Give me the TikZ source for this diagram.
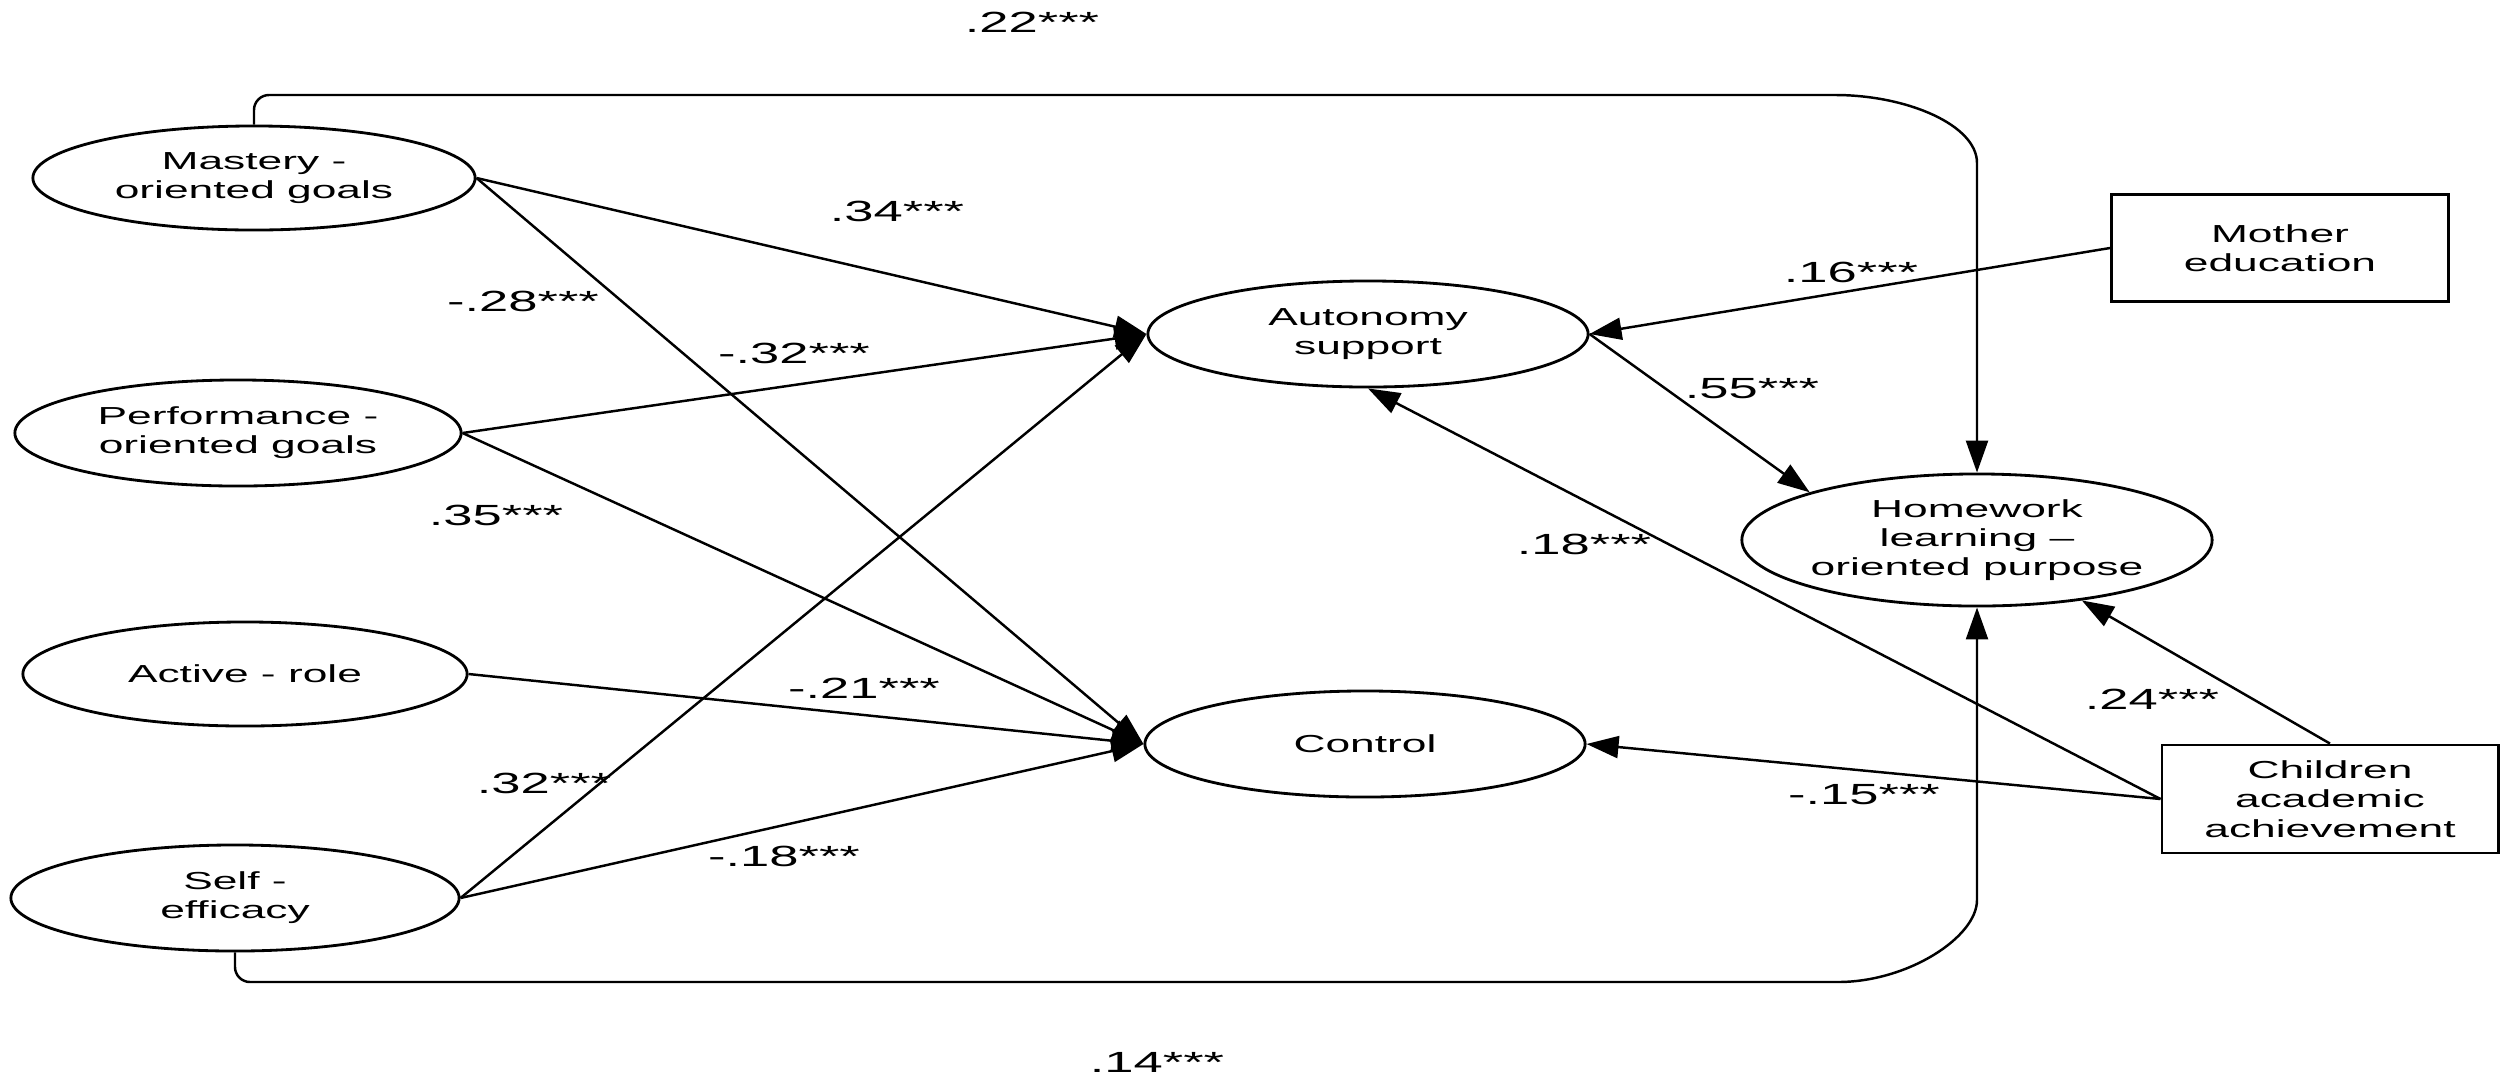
\documentclass[tikz,border=0pt]{standalone}
\usepackage{fontspec}
\setmainfont{Liberation Sans}[FakeStretch=1.8]
\usetikzlibrary{shapes.geometric,arrows.meta}
\newcommand{\nodefnt}{\fontsize{7}{8.3}\selectfont}
\newcommand{\coeffnt}{\fontsize{8.3}{10}\selectfont}
\begin{document}
\begin{tikzpicture}[x=0.01cm,y=-0.01cm,
  latent/.style={draw, ellipse, line width=0.8pt, inner sep=0pt, align=center, font=\nodefnt},
  obs/.style={draw, rectangle, line width=0.8pt, inner sep=0pt, align=center, font=\nodefnt},
  pth/.style={line width=0.7pt, -{Triangle[length=0.32cm,width=0.22cm]}},
  coef/.style={font=\coeffnt, inner sep=0pt}]
\useasboundingbox (0,0) rectangle (2508,1081);
% latent variables
\node[latent, minimum width=4.42cm, minimum height=1.04cm] (mast) at (254,178) {Mastery -\\oriented goals};
\node[latent, minimum width=4.46cm, minimum height=1.06cm] (perf) at (238,433) {Performance -\\oriented goals};
\node[latent, minimum width=4.44cm, minimum height=1.04cm] (act) at (245,674) {Active - role};
\node[latent, minimum width=4.48cm, minimum height=1.06cm] (self) at (235,898) {Self -\\efficacy};
\node[latent, minimum width=4.4cm, minimum height=1.06cm] (auto) at (1368,334) {Autonomy\\support};
\node[latent, minimum width=4.4cm, minimum height=1.06cm] (ctrl) at (1365,744) {Control};
\node[latent, minimum width=4.46cm, minimum height=1.32cm] (home) at (1977,540) {Homework\\learning –\\oriented purpose};
% observed variables
\node[obs, minimum width=3.37cm, minimum height=1.07cm] (moth) at (2280,248) {Mother\\education};
\node[obs, minimum width=3.36cm, minimum height=1.08cm] (chil) at (2330,799) {Children\\academic\\achievement};
% turning points of the two long paths
\coordinate (tA) at (1820,95);
\coordinate (tB) at (1977,163);
\coordinate (bA) at (1823,982);
\coordinate (bB) at (1977,900);
% paths
\draw[pth] (mast.east) -- (auto.west);
\draw[pth] (mast.east) -- (ctrl.west);
\draw[pth] (perf.east) -- (auto.west);
\draw[pth] (perf.east) -- (ctrl.west);
\draw[pth] (act.east) -- (ctrl.west);
\draw[pth] (self.east) -- (auto.west);
\draw[pth] (self.east) -- (ctrl.west);
\draw[pth] (moth.west) -- (auto.east);
\draw[pth] (auto.east) -- (home.north west);
\draw[pth] (chil.west) -- (auto.south);
\draw[pth] (chil.west) -- (ctrl.east);
\draw[pth] (chil.north) -- (home);
\draw[pth] (mast.north) [rounded corners=0.15cm] |- (tA) [sharp corners] .. controls (1907,95) and (1977,125) .. (tB) -- (home.north);
\draw[pth] (self.south) [rounded corners=0.15cm] |- (bA) [sharp corners] .. controls (1908,982) and (1977,937) .. (bB) -- (home.south);
% coefficients
\node[coef] (c1) at (1032,22) {.22***};
\node[coef] (c2) at (897,211) {.34***};
\node[coef] (c3) at (523,301) {-.28***};
\node[coef] (c4) at (794,353) {-.32***};
\node[coef] (c5) at (496,515) {.35***};
\node[coef] (c6) at (864,688) {-.21***};
\node[coef] (c7) at (544,783) {.32***};
\node[coef] (c8) at (784,856) {-.18***};
\node[coef] (c9) at (1157,1062) {.14***};
\node[coef] (c10) at (1851,272) {.16***};
\node[coef] (c11) at (1752,389) {.55***};
\node[coef] (c12) at (1584,544) {.18***};
\node[coef] (c13) at (2152,699) {.24***};
\node[coef] (c14) at (1864,795) {-.15***};
\end{tikzpicture}
\end{document}
